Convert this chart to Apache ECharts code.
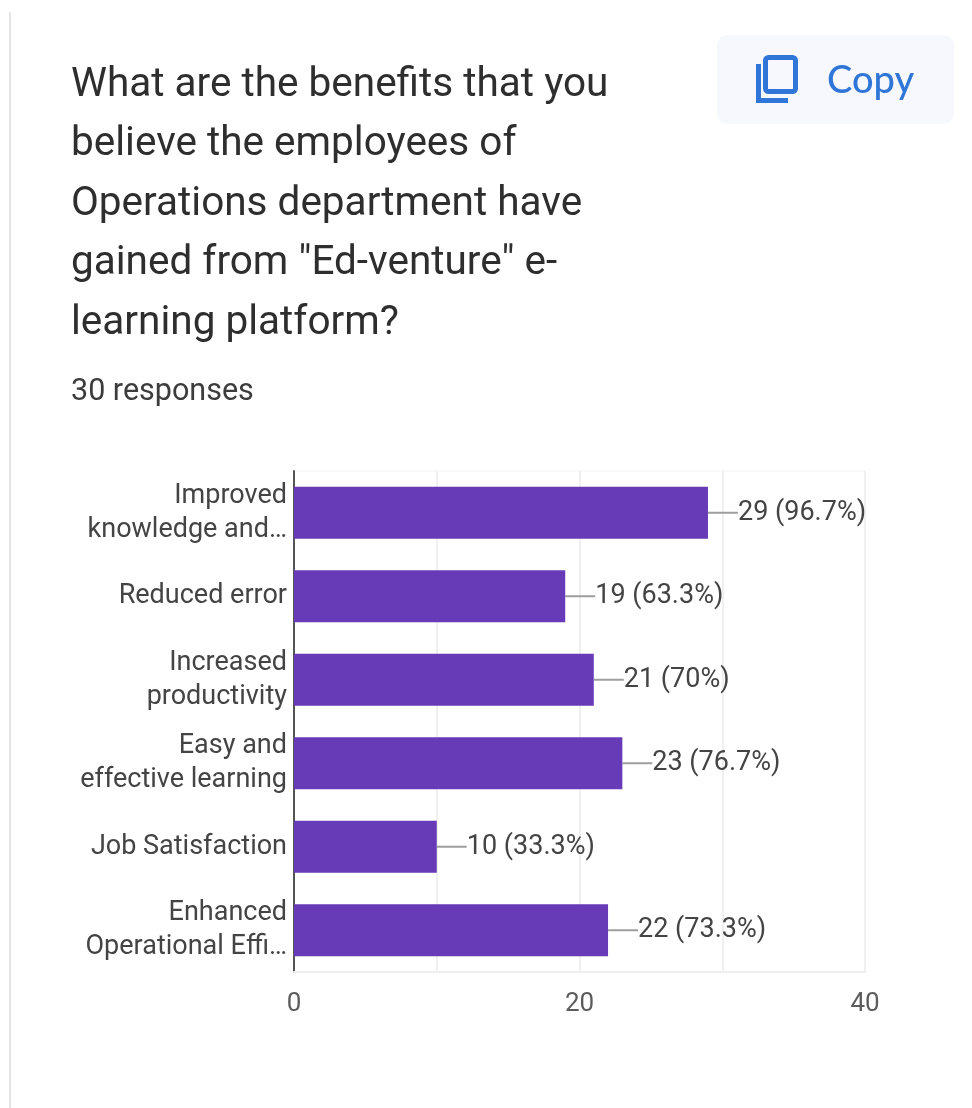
<!DOCTYPE html>
<html>
<head>
<meta charset="utf-8">
<style>
html,body{margin:0;padding:0;background:#fff;}
#chart{width:972px;height:1108px;}
</style>
<script src="https://cdn.jsdelivr.net/npm/echarts@6/dist/echarts.min.js"></script>
</head>
<body>
<div id="chart"></div>
<script>
// Survey question and response count
const titleLines = [
  'What are the benefits that you',
  'believe the employees of',
  'Operations department have',
  'gained from "Ed-venture" e-',
  'learning platform?'
];
const responseText = '30 responses';

// Answer options, counts and the shares printed next to the bars
const categories = [
  'Improved\nknowledge and…',
  'Reduced error',
  'Increased\nproductivity',
  'Easy and\neffective learning',
  'Job Satisfaction',
  'Enhanced\nOperational Effi…'
];
const counts = [29, 19, 21, 23, 10, 22];
const shares = ['96.7%', '63.3%', '70%', '76.7%', '33.3%', '73.3%'];
const shownTicks = [0, 20, 40];

const FONT = 'Roboto';
const BLUE = '#2f76d8';
const chart = echarts.init(document.getElementById('chart'), null, {renderer: 'canvas'});

const titleGraphics = titleLines.map((line, i) => ({
  type: 'text',
  left: 71,
  top: 65 + i * 59.5,
  style: {text: line, font: '40.5px ' + FONT, fill: '#2e2e2e'}
}));

chart.setOption({
  animation: false,
  backgroundColor: '#ffffff',
  grid: {show: true, borderColor: '#f3f3f3', borderWidth: 1, left: 294, top: 471, width: 571, height: 501},
  xAxis: {
    type: 'value',
    min: 0,
    max: 40,
    interval: 10,
    axisLine: {show: true, lineStyle: {color: '#eeeeee', width: 2}},
    axisTick: {show: false},
    splitLine: {show: true, lineStyle: {color: '#f0f0f0', width: 2}},
    axisLabel: {
      margin: 19,
      color: '#5c5c5c',
      fontFamily: FONT,
      fontSize: 26,
      formatter: v => shownTicks.includes(v) ? String(v) : ''
    }
  },
  yAxis: {
    type: 'category',
    inverse: true,
    data: categories,
    axisLine: {show: true, lineStyle: {color: '#555555', width: 2}},
    axisTick: {show: false},
    axisLabel: {
      margin: 7,
      color: '#444444',
      fontFamily: FONT,
      fontSize: 27,
      lineHeight: 34,
      align: 'right'
    }
  },
  series: [{
    type: 'bar',
    data: counts,
    barWidth: 52,
    itemStyle: {color: '#673ab7'},
    label: {
      show: true,
      position: 'right',
      distance: 0,
      color: '#444444',
      fontFamily: FONT,
      fontSize: 27,
      formatter: p => p.value + ' (' + shares[p.dataIndex] + ')'
    },
    labelLayout: {dx: 30},
    labelLine: {show: true, lineStyle: {color: '#9e9e9e', width: 2}}
  }],
  graphic: [
    // Left edge of the card
    {type: 'rect', shape: {x: 9, y: 12, width: 2, height: 1096}, style: {fill: '#e4e4ec'}},
    ...titleGraphics,
    {type: 'text', left: 71, top: 377, style: {text: responseText, font: '30.5px ' + FONT, fill: '#3c3c3c'}},
    // Copy button
    {type: 'rect', shape: {x: 717, y: 35, width: 237, height: 89, r: 10}, style: {fill: '#f6f8fd'}},
    {type: 'rect', shape: {x: 765.5, y: 57.5, width: 30, height: 34, r: 3},
      style: {fill: 'none', stroke: BLUE, lineWidth: 5}},
    {type: 'polyline', shape: {points: [[758.5, 64], [758.5, 100.5], [788, 100.5]]},
      style: {fill: 'none', stroke: BLUE, lineWidth: 5}},
    {type: 'text', left: 827, top: 62, style: {text: 'Copy', font: '500 38px Lato', fill: BLUE}}
  ]
});
</script>
</body>
</html>
